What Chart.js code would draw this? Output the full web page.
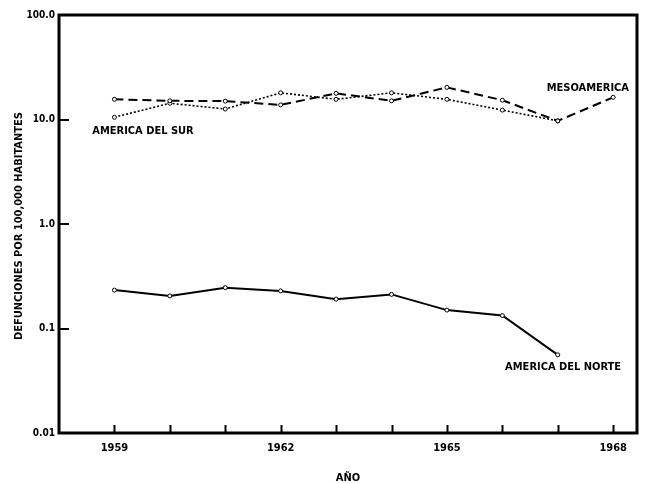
<!DOCTYPE html>
<html>
<head>
<meta charset="utf-8">
<script src="https://cdn.jsdelivr.net/npm/chart.js@4.4.0/dist/chart.umd.min.js"></script>
<style>
    html, body { margin: 0; padding: 0; background: #fff; }
    canvas { display: block; }
</style>
</head>
<body>
<canvas id="mortalityChart" width="647" height="484"></canvas>
<script>
const years = [1959, 1960, 1961, 1962, 1963, 1964, 1965, 1966, 1967, 1968];
const labelledYears = [1959, 1962, 1965, 1968];
const mesoamerica = [15.6, 15.1, 15.0, 13.8, 17.8, 15.1, 20.3, 15.3, 9.7, 16.3];
const americaDelSur = [10.5, 14.3, 12.6, 18.0, 15.6, 18.0, 15.6, 12.3, 9.7, null];
const americaDelNorte = [0.233, 0.205, 0.246, 0.229, 0.191, 0.212, 0.150, 0.133, 0.056, null];
const yTicks = [0.01, 0.1, 1, 10, 100];
const yTickLabels = ['0.01', '0.1', '1.0', '10.0', '100.0'];

const FONT = '"Liberation Sans Narrow", "DejaVu Sans Condensed", sans-serif';

function toPoints(values) {
    return years
        .map((year, i) => ({ x: year, y: values[i] }))
        .filter(p => p.y !== null);
}

function series(label, values, dash, width) {
    return {
        label,
        data: toPoints(values),
        borderColor: '#000',
        borderWidth: width,
        borderDash: dash,
        pointRadius: 2,
        pointBorderWidth: 1,
        pointBackgroundColor: '#fff',
        pointBorderColor: '#000',
        tension: 0,
        fill: false
    };
}

// frame, inward tick marks, axis titles and series labels
const framePlugin = {
    id: 'frame',
    afterDraw(chart, args, opts) {
        const { ctx, chartArea: a, scales: { x, y } } = chart;
        ctx.save();
        ctx.strokeStyle = '#000';
        ctx.lineWidth = 3;
        ctx.strokeRect(a.left, a.top, a.right - a.left, a.bottom - a.top);

        ctx.lineWidth = 2;
        yTicks.forEach(v => {
            const py = Math.round(y.getPixelForValue(v));
            ctx.beginPath();
            ctx.moveTo(a.left, py);
            ctx.lineTo(a.left + 10, py);
            ctx.stroke();
        });
        years.forEach(v => {
            const px = Math.round(x.getPixelForValue(v)) + 0.5;
            ctx.beginPath();
            ctx.moveTo(px, a.bottom);
            ctx.lineTo(px, a.bottom - 8);
            ctx.stroke();
        });

        ctx.fillStyle = '#000';
        ctx.font = 'bold 11px ' + FONT;
        ctx.textBaseline = 'alphabetic';
        ctx.textAlign = 'left';
        opts.notes.forEach(n => {
            ctx.fillText(n.text, x.getPixelForValue(n.x), y.getPixelForValue(n.y));
        });

        ctx.textAlign = 'center';
        ctx.fillText('AÑO', (a.left + a.right) / 2, 481);

        ctx.translate(22, (a.top + a.bottom) / 2 + 2);
        ctx.rotate(-Math.PI / 2);
        ctx.fillText('DEFUNCIONES POR 100,000 HABITANTES', 0, 0);
        ctx.restore();
    }
};

new Chart(document.getElementById('mortalityChart').getContext('2d'), {
    type: 'line',
    data: {
        datasets: [
            series('MESOAMERICA', mesoamerica, [9, 5], 2),
            series('AMERICA DEL SUR', americaDelSur, [2, 2], 1.6),
            series('AMERICA DEL NORTE', americaDelNorte, [], 2)
        ]
    },
    options: {
        responsive: false,
        animation: false,
        layout: { padding: { top: 15, right: 10, left: 0, bottom: 0 } },
        plugins: {
            legend: { display: false },
            tooltip: { enabled: false },
            frame: {
                notes: [
                    { text: 'MESOAMERICA', x: 1966.8, y: 18.7 },
                    { text: 'AMERICA DEL SUR', x: 1958.6, y: 7.26 },
                    { text: 'AMERICA DEL NORTE', x: 1966.05, y: 0.040 }
                ]
            }
        },
        scales: {
            x: {
                type: 'linear',
                min: 1958,
                max: 1968.43,
                grid: { display: false, drawTicks: false },
                border: { display: false },
                afterBuildTicks(scale) {
                    scale.ticks = labelledYears.map(v => ({ value: v }));
                },
                afterFit(scale) { scale.height = 51; },
                ticks: {
                    autoSkip: false,
                    maxRotation: 0,
                    padding: 9,
                    color: '#000',
                    font: { family: FONT, size: 11, weight: 'bold' },
                    callback: v => String(v)
                }
            },
            y: {
                type: 'logarithmic',
                min: 0.01,
                max: 100,
                grid: { display: false, drawTicks: false },
                border: { display: false },
                afterBuildTicks(scale) {
                    scale.ticks = yTicks.map(v => ({ value: v }));
                },
                afterFit(scale) { scale.width = 59; },
                ticks: {
                    autoSkip: false,
                    padding: 4,
                    color: '#000',
                    font: { family: FONT, size: 10, weight: 'bold' },
                    callback: v => yTickLabels[yTicks.indexOf(v)]
                }
            }
        }
    },
    plugins: [framePlugin]
});
</script>
</body>
</html>
